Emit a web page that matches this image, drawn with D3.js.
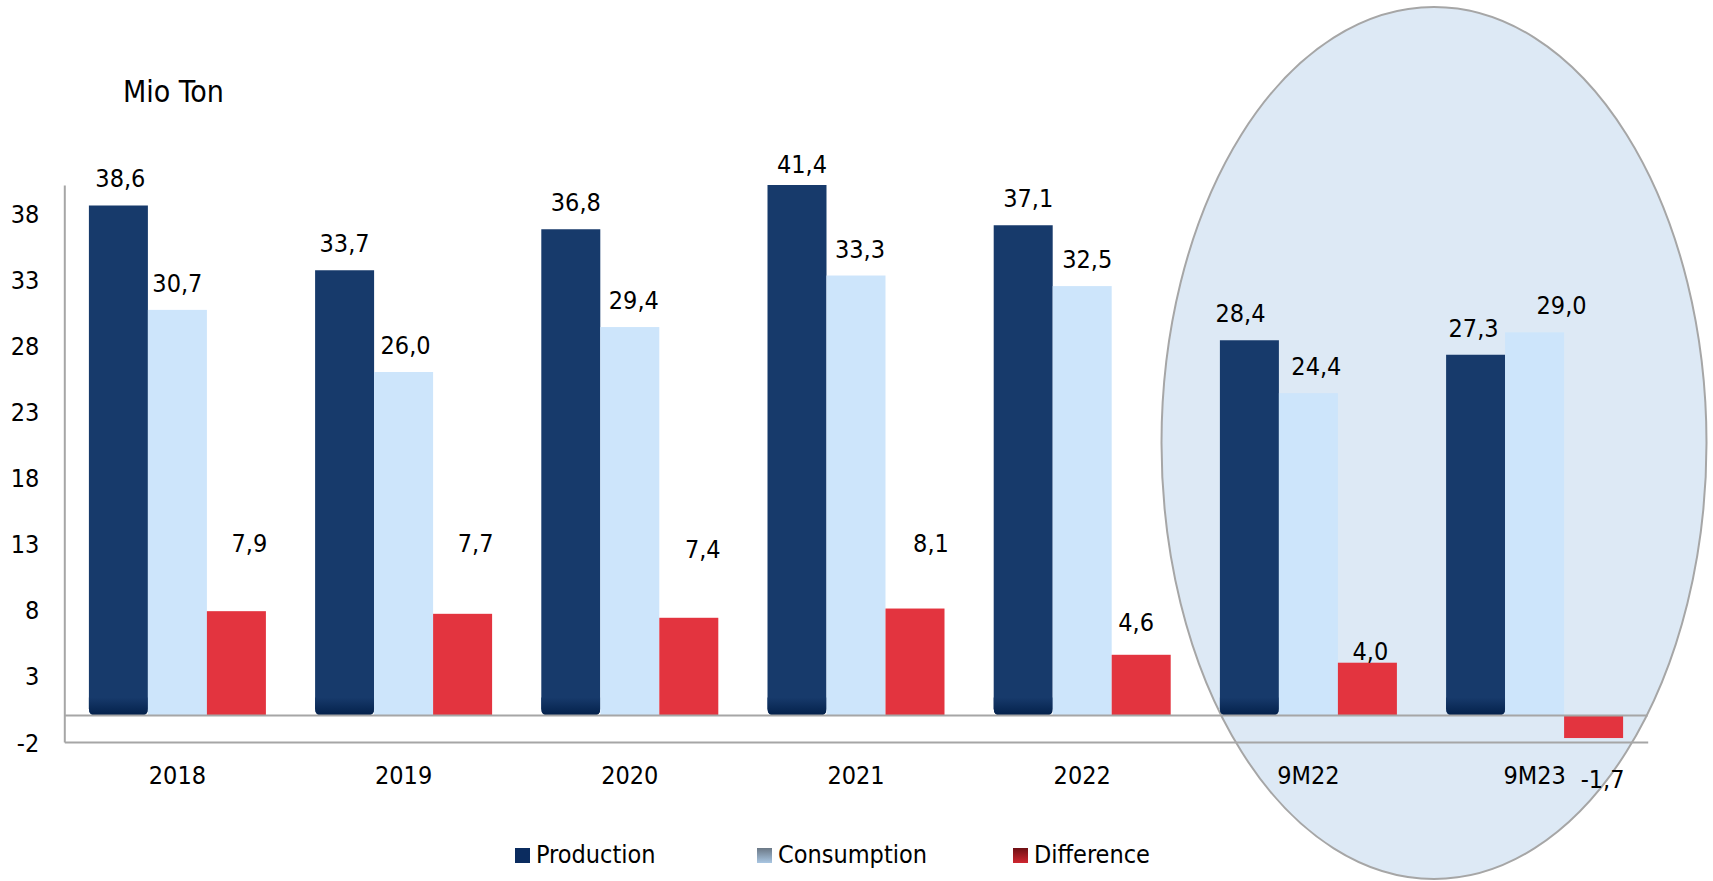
<!DOCTYPE html>
<html>
<head>
<meta charset="utf-8">
<script src="https://cdn.jsdelivr.net/npm/d3@7/dist/d3.min.js"></script>
<style>
  html, body { margin: 0; padding: 0; background: #ffffff; }
  svg { display: block; }
  text { font-family: "DejaVu Sans Condensed", "DejaVu Sans", sans-serif; font-stretch: condensed; fill: #000; }
</style>
</head>
<body>
<svg id="chart" width="1713" height="881"></svg>
<script>
// ---- data ----
const categories = ["2018", "2019", "2020", "2021", "2022", "9M22", "9M23"];
const seriesNames = ["Production", "Consumption", "Difference"];
const production = [38.6, 33.7, 36.8, 41.4, 37.1, 28.4, 27.3];
const consumption = [30.7, 26.0, 29.4, 33.3, 32.5, 24.4, 29.0];
const difference = [7.9, 7.7, 7.4, 8.1, 4.6, 4.0, -1.7];
const yTicks = [-2, 3, 8, 13, 18, 23, 28, 33, 38];
const unitLabel = "Mio Ton";

// ---- label nudges (presentation only) ----
const prodLabelDx = [2, 0, 5, 5, 5, -9, -2];
const prodLabelGap = [18, 18, 18, 12, 18, 18, 18];
const consLabelDx = [0, 2, 4, 4, 5, 8, 27];
const diffLabelDx = [13, 13, 14, 16, -5, 3, 9];
const diffLabelGap = [59.5, 62, 60, 56.6, 23.3, 3, -72];

// ---- layout ----
const svg = d3.select("#chart");
const plotLeft = 64.3, plotRight = 1647.7, plotTop = 185, plotBottom = 742;
const y = d3.scaleLinear().domain([-2, 40.15]).range([plotBottom, plotTop]).clamp(true);
const x0 = d3.scaleBand().domain(categories).range([plotLeft, plotRight])
  .paddingInner(0.2175).paddingOuter(0.10875);
const x1 = d3.scaleBand().domain(seriesNames).range([0, x0.bandwidth()]).padding(0);
const colors = { Production: "#173a6b", Consumption: "#cde5fb", Difference: "#e3343f" };
const numFmt = d3.formatLocale({ decimal: ",", thousands: ".", grouping: [3], currency: ["", ""], minus: "-" }).format(".1f");

const defs = svg.append("defs");
const gBottom = defs.append("linearGradient").attr("id", "prodBottom").attr("x1", 0).attr("y1", 0).attr("x2", 0).attr("y2", 1);
gBottom.append("stop").attr("offset", "0%").attr("stop-color", "#173a6b");
gBottom.append("stop").attr("offset", "100%").attr("stop-color", "#03204a");
const gCons = defs.append("linearGradient").attr("id", "legCons").attr("x1", 0).attr("y1", 0).attr("x2", 0).attr("y2", 1);
gCons.append("stop").attr("offset", "0%").attr("stop-color", "#6b7886");
gCons.append("stop").attr("offset", "100%").attr("stop-color", "#a9c6e2");
const gDiff = defs.append("linearGradient").attr("id", "legDiff").attr("x1", 0).attr("y1", 0).attr("x2", 0).attr("y2", 1);
gDiff.append("stop").attr("offset", "0%").attr("stop-color", "#6e1014");
gDiff.append("stop").attr("offset", "100%").attr("stop-color", "#cf2630");

// ---- highlight ellipse ----
svg.append("ellipse")
  .attr("cx", 1434).attr("cy", 443).attr("rx", 272.5).attr("ry", 436)
  .attr("fill", "#dde9f5").attr("stroke", "#a6a6a6").attr("stroke-width", 2);

// ---- bars ----
const groups = svg.append("g").selectAll("g").data(categories).join("g")
  .attr("transform", d => `translate(${x0(d)},0)`);

function roundedBottom(x, yTop, w, yBot, r) {
  return `M${x},${yTop} L${x + w},${yTop} L${x + w},${yBot - r} Q${x + w},${yBot} ${x + w - r},${yBot} L${x + r},${yBot} Q${x},${yBot} ${x},${yBot - r} Z`;
}

// production
groups.append("path")
  .attr("d", (d, i) => roundedBottom(x1("Production"), y(production[i]), x1.bandwidth(), y(0), 7))
  .attr("fill", colors.Production);
groups.append("path")
  .attr("d", () => roundedBottom(x1("Production"), y(0) - 18, x1.bandwidth(), y(0), 7))
  .attr("fill", "url(#prodBottom)");
// consumption
groups.append("rect")
  .attr("x", x1("Consumption")).attr("width", x1.bandwidth())
  .attr("y", (d, i) => y(consumption[i]))
  .attr("height", (d, i) => y(0) - y(consumption[i]))
  .attr("fill", colors.Consumption);
// difference
groups.append("rect")
  .attr("x", x1("Difference")).attr("width", x1.bandwidth())
  .attr("y", (d, i) => Math.min(y(difference[i]), y(0)))
  .attr("height", (d, i) => Math.abs(y(0) - y(difference[i])))
  .attr("fill", colors.Difference);

// ---- axes lines ----
const yAxis = svg.append("g").attr("transform", `translate(${plotLeft},0)`)
  .call(d3.axisLeft(y).tickValues(yTicks).tickSize(0).tickPadding(25).tickFormat(d => String(d)));
yAxis.select(".domain").attr("stroke", "#a6a6a6").attr("stroke-width", 2);
yAxis.selectAll("text").attr("font-size", 25)
  .style("font-family", '"DejaVu Sans Condensed", "DejaVu Sans", sans-serif')
  .attr("dy", "0.36em");

svg.append("line").attr("x1", plotLeft).attr("x2", plotRight).attr("y1", y(0)).attr("y2", y(0))
  .attr("stroke", "#a6a6a6").attr("stroke-width", 2);
const xAxis = svg.append("g").attr("transform", `translate(0,${y(-2)})`)
  .call(d3.axisBottom(x0).tickSize(0).tickPadding(24));
xAxis.select(".domain").attr("stroke", "#a6a6a6").attr("stroke-width", 2);
xAxis.selectAll("text").attr("font-size", 25)
  .style("font-family", '"DejaVu Sans Condensed", "DejaVu Sans", sans-serif');

// ---- value labels ----
groups.append("text")
  .attr("x", (d, i) => x1("Production") + x1.bandwidth() / 2 + prodLabelDx[i])
  .attr("y", (d, i) => y(production[i]) - prodLabelGap[i])
  .attr("text-anchor", "middle").attr("font-size", 25)
  .text((d, i) => numFmt(production[i]));
groups.append("text")
  .attr("x", (d, i) => x1("Consumption") + x1.bandwidth() / 2 + consLabelDx[i])
  .attr("y", (d, i) => y(consumption[i]) - 18)
  .attr("text-anchor", "middle").attr("font-size", 25)
  .text((d, i) => numFmt(consumption[i]));
groups.append("text")
  .attr("x", (d, i) => x1("Difference") + x1.bandwidth() / 2 + diffLabelDx[i])
  .attr("y", (d, i) => y(Math.max(difference[i], 0)) - diffLabelGap[i])
  .attr("text-anchor", "middle").attr("font-size", 25)
  .text((d, i) => numFmt(difference[i]));

// ---- unit label ----
svg.append("text").attr("x", 123).attr("y", 102).attr("font-size", 30).text(unitLabel);

// ---- legend ----
const legendX = [515, 757, 1013];
const legendFill = ["#0b2c5f", "url(#legCons)", "url(#legDiff)"];
const leg = svg.append("g").selectAll("g").data(seriesNames).join("g")
  .attr("transform", (d, i) => `translate(${legendX[i]},848)`);
leg.append("rect").attr("width", 15).attr("height", 15).attr("fill", (d, i) => legendFill[i]);
leg.append("text").attr("x", 21).attr("y", 15).attr("font-size", 25).text(d => d);
</script>
</body>
</html>
